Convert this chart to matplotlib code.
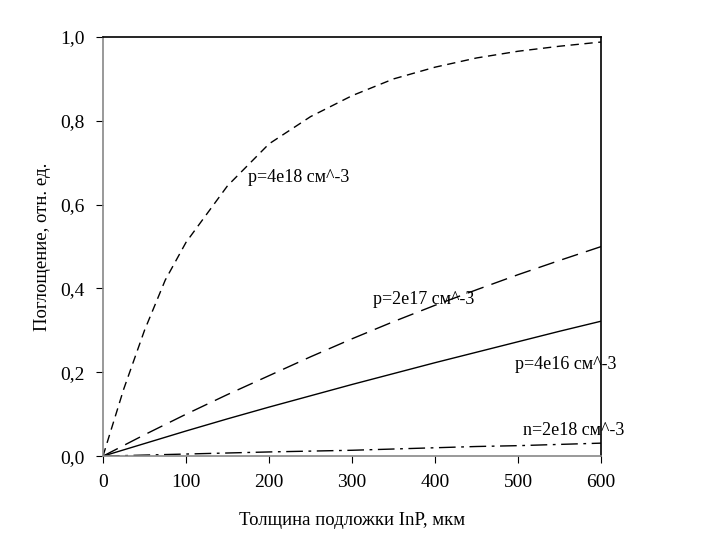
import numpy as np
import matplotlib
matplotlib.use('Agg')
import matplotlib.pyplot as plt
from matplotlib.ticker import FuncFormatter

# толщина подложки, мкм
x_top = [0, 25, 50, 75, 100, 150, 200, 250, 300, 350, 400, 450, 500, 550, 600]
y_p4e18 = [0, 0.16, 0.30, 0.42, 0.51, 0.645, 0.745, 0.81, 0.86, 0.90, 0.928, 0.95, 0.966, 0.978, 0.988]

x_lin = [0, 50, 100, 150, 200, 250, 300, 350, 400, 450, 500, 550, 600]
y_p2e17 = [0, 0.051, 0.10, 0.147, 0.192, 0.237, 0.28, 0.321, 0.36, 0.397, 0.433, 0.467, 0.50]
y_p4e16 = [0, 0.03, 0.06, 0.089, 0.117, 0.144, 0.171, 0.197, 0.223, 0.248, 0.273, 0.298, 0.322]
y_n2e18 = [0, 0.0025, 0.005, 0.0075, 0.010, 0.012, 0.014, 0.017, 0.020, 0.023, 0.025, 0.028, 0.031]

plt.rcParams['font.family'] = ['Liberation Serif', 'DejaVu Serif']

fig = plt.figure(figsize=(7.2, 5.36), dpi=100)
ax = fig.add_axes([0.143, 0.149, 0.692, 0.782])

ax.plot(x_top, y_p4e18, color='black', lw=1.0, dashes=(6, 4))
ax.plot(x_lin, y_p2e17, color='black', lw=1.0, dashes=(12, 6))
ax.plot(x_lin, y_p4e16, color='black', lw=1.0)
ax.plot(x_lin, y_n2e18, color='black', lw=1.0, dashes=(12, 4, 2, 4))

ax.text(175, 0.655, 'p=4e18 см^-3', fontsize=13)
ax.text(325, 0.362, 'p=2e17 см^-3', fontsize=13)
ax.text(496, 0.207, 'p=4e16 см^-3', fontsize=13)
ax.text(506, 0.050, 'n=2e18 см^-3', fontsize=13)

ax.set_xlim(0, 600)
ax.set_ylim(0, 1.0)
ax.set_xticks(np.arange(0, 601, 100))
ax.set_yticks(np.arange(0, 1.01, 0.2))
ax.yaxis.set_major_formatter(FuncFormatter(lambda v, p: f'{v:.1f}'.replace('.', ',')))
ax.tick_params(direction='out', length=5, labelsize=14, top=False, right=False, pad=8)

ax.spines['left'].set_color('#888888')
ax.spines['bottom'].set_color('#888888')
for s in ax.spines.values():
    s.set_linewidth(1.2)

ax.set_xlabel('Толщина подложки InP, мкм', fontsize=13.5, labelpad=15)
ax.set_ylabel('Поглощение, отн. ед.', fontsize=13.5, labelpad=7)

fig.savefig('out.png', dpi=100)
